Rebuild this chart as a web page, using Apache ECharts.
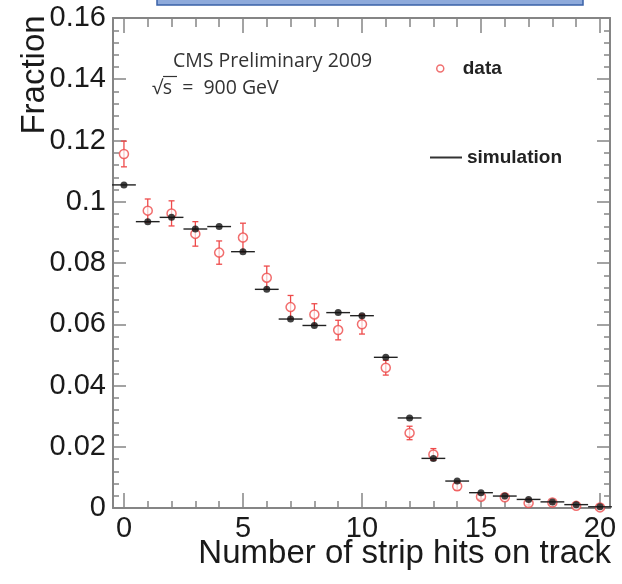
<!DOCTYPE html>
<html>
<head>
<meta charset="utf-8">
<script src="https://cdn.jsdelivr.net/npm/echarts@6/dist/echarts.min.js"></script>
<style>
  html, body { margin: 0; padding: 0; background: #ffffff; }
  #chart { width: 622px; height: 584px; }
</style>
</head>
<body>
<div id="chart"></div>
<script>
// ---- data ----
var bins = [0,1,2,3,4,5,6,7,8,9,10,11,12,13,14,15,16,17,18,19,20];
var simulation = [0.1055,0.0935,0.0949,0.0911,0.0919,0.0837,0.0714,0.0617,0.0596,0.0638,0.0628,0.0492,0.0294,0.0162,0.0088,0.0050,0.0039,0.0028,0.0020,0.0011,0.0004];
var dataVals = [0.1156,0.0971,0.0962,0.0895,0.0834,0.0883,0.0752,0.0656,0.0632,0.0581,0.0600,0.0458,0.0245,0.0175,0.0071,0.0037,0.0035,0.0016,0.0018,0.0007,0.0002];
var dataErr = [0.0042,0.0038,0.0041,0.0040,0.0038,0.0047,0.0038,0.0038,0.0035,0.0032,0.0032,0.0024,0.0022,0.0019,0.0012,0.0008,0.0007,0.0006,0.0005,0.0004,0.0003];
var xMajorTicks = [0,5,10,15,20];
var xMinorTicks = [0,1,2,3,4,5,6,7,8,9,10,11,12,13,14,15,16,17,18,19,20];

var FRAME = '#858585';
var RED = '#ee4a4a';
var BLACK = '#111111';
var X_MIN = -0.46, X_MAX = 20.42;

var simPts = bins.map(function (b, i) { return [b, simulation[i]]; });
var dataPts = bins.map(function (b, i) { return [b, dataVals[i]]; });
var errPts = bins.map(function (b, i) { return [b, dataVals[i] - dataErr[i], dataVals[i] + dataErr[i]]; });

function xAxisDef(pos, ticks, len, withLabels, withLine) {
  return {
    type: 'value', position: pos, min: X_MIN, max: X_MAX,
    axisLine: { show: withLine, onZero: false, lineStyle: { color: FRAME, width: 2 } },
    axisTick: { show: true, inside: true, length: len, customValues: ticks, lineStyle: { color: FRAME, width: 1.5 } },
    axisLabel: withLabels ? { show: true, customValues: xMajorTicks, fontFamily: 'Liberation Sans', fontSize: 29, color: '#1a1a1a', margin: 6 } : { show: false },
    splitLine: { show: false }
  };
}
function yAxisDef(pos, withLabels) {
  return {
    type: 'value', position: pos, min: 0, max: 0.16, interval: 0.02,
    axisLine: { show: true, onZero: false, lineStyle: { color: FRAME, width: 2 } },
    axisTick: { show: true, inside: true, length: 13, lineStyle: { color: FRAME, width: 1.5 } },
    minorTick: { show: true, splitNumber: 5, length: 6, lineStyle: { color: FRAME, width: 1.5 } },
    axisLabel: withLabels ? { show: true, fontFamily: 'Liberation Sans', fontSize: 29, color: '#1a1a1a', margin: 7 } : { show: false },
    splitLine: { show: false }
  };
}

var chart = echarts.init(document.getElementById('chart'), null, { renderer: 'canvas' });
chart.setOption({
  backgroundColor: '#ffffff',
  animation: false,
  grid: { left: 113, right: 12, top: 18, bottom: 76 },
  xAxis: [
    xAxisDef('bottom', xMajorTicks, 15, true, true),
    xAxisDef('bottom', xMinorTicks, 7, false, false),
    xAxisDef('top', xMajorTicks, 15, false, true),
    xAxisDef('top', xMinorTicks, 9, false, false)
  ],
  yAxis: [ yAxisDef('left', true), yAxisDef('right', false) ],
  legend: [
    { left: 431, top: 54, orient: 'vertical', itemWidth: 7, itemHeight: 7,
      data: [{ name: 'data', icon: 'circle', itemStyle: { color: '#ffffff', borderColor: '#f07070', borderWidth: 1.5 } }],
      textStyle: { fontFamily: 'Liberation Sans', fontWeight: 'bold', fontSize: 19, color: '#222', padding: [0, 0, 0, 14] } },
    { left: 425, top: 143, orient: 'vertical', itemWidth: 32, itemHeight: 2,
      data: [{ name: 'simulation', icon: 'rect', itemStyle: { color: '#333' } }],
      textStyle: { fontFamily: 'Liberation Sans', fontWeight: 'bold', fontSize: 19, color: '#222' } }
  ],
  graphic: [
    { type: 'rect', shape: { x: 157, y: -4, width: 426, height: 9 }, style: { fill: '#8eaadb', stroke: '#3a62a8', lineWidth: 1.5 } },
    { type: 'text', x: 35, y: 75, rotation: Math.PI / 2,
      style: { text: 'Fraction', fontFamily: 'Liberation Sans', fontSize: 33, fill: '#1a1a1a', align: 'center', verticalAlign: 'middle' } },
    { type: 'text', x: 611, y: 554,
      style: { text: 'Number of strip hits on track', fontFamily: 'Liberation Sans', fontSize: 33, fill: '#1a1a1a', align: 'right', verticalAlign: 'middle' } },
    { type: 'text', x: 173, y: 61,
      style: { text: 'CMS Preliminary 2009', fontFamily: 'Open Sans', fontSize: 19.5, fill: '#333', align: 'left', verticalAlign: 'middle' } },
    { type: 'text', x: 152, y: 88,
      style: { text: '\u221As  =  900 GeV', fontFamily: 'Open Sans', fontSize: 19.5, fill: '#333', align: 'left', verticalAlign: 'middle' } },
    { type: 'line', shape: { x1: 163, y1: 76.5, x2: 177, y2: 76.5 }, style: { stroke: '#333', lineWidth: 1.2 } }
  ],
  series: [
    {
      name: 'data', type: 'custom', xAxisIndex: 0, yAxisIndex: 0, z: 2,
      itemStyle: { color: RED },
      data: errPts,
      renderItem: function (params, api) {
        var x = api.value(0);
        var lo = api.coord([x, api.value(1)]);
        var hi = api.coord([x, api.value(2)]);
        var cap = 3;
        var st = { stroke: RED, lineWidth: 1.3 };
        return { type: 'group', children: [
          { type: 'line', shape: { x1: lo[0], y1: lo[1], x2: hi[0], y2: hi[1] }, style: st },
          { type: 'line', shape: { x1: lo[0] - cap, y1: lo[1], x2: lo[0] + cap, y2: lo[1] }, style: st },
          { type: 'line', shape: { x1: hi[0] - cap, y1: hi[1], x2: hi[0] + cap, y2: hi[1] }, style: st }
        ] };
      }
    },
    {
      name: 'data', type: 'scatter', xAxisIndex: 0, yAxisIndex: 0, z: 3,
      symbol: 'circle', symbolSize: 9,
      itemStyle: { color: 'rgba(255,255,255,0.85)', borderColor: RED, borderWidth: 1.5 },
      data: dataPts
    },
    {
      name: 'simulation', type: 'custom', xAxisIndex: 0, yAxisIndex: 0, z: 4,
      itemStyle: { color: BLACK },
      data: simPts,
      renderItem: function (params, api) {
        var x = api.value(0), y = api.value(1);
        var a = api.coord([x - 0.5, y]);
        var b = api.coord([x + 0.5, y]);
        return { type: 'line', shape: { x1: a[0], y1: a[1], x2: b[0], y2: b[1] }, style: { stroke: '#222', lineWidth: 1.4 } };
      }
    },
    {
      name: 'simulation', type: 'scatter', xAxisIndex: 0, yAxisIndex: 0, z: 5,
      symbol: 'circle', symbolSize: 7,
      itemStyle: { color: BLACK },
      data: simPts
    }
  ]
});
</script>
</body>
</html>
